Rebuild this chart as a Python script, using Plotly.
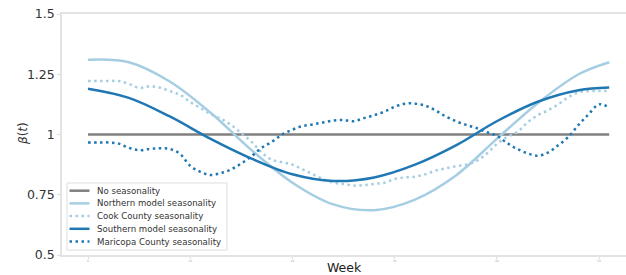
import plotly.graph_objects as go

# ---------------- data ----------------
weeks_base = [0, 51]
no_season = [1.0, 1.0]

weeks_model = [0, 4, 8, 12, 16, 20, 24, 28, 32, 36, 40, 44, 48, 51]
northern = [1.31, 1.30, 1.22, 1.09, 0.935, 0.80, 0.71, 0.686, 0.73, 0.83, 0.982, 1.13, 1.25, 1.30]
southern = [1.19, 1.152, 1.075, 0.982, 0.90, 0.835, 0.807, 0.822, 0.875, 0.955, 1.055, 1.136, 1.184, 1.195]

weeks_county = list(range(0, 52))
cook = [1.222, 1.222, 1.222, 1.222, 1.21, 1.193, 1.20, 1.195, 1.18, 1.165,
        1.135, 1.11, 1.085, 1.065, 1.04, 1.005, 0.97, 0.925, 0.895, 0.885,
        0.875, 0.855, 0.835, 0.815, 0.80, 0.795, 0.788, 0.79, 0.795, 0.80,
        0.815, 0.822, 0.825, 0.835, 0.85, 0.86, 0.868, 0.875, 0.89, 0.92,
        0.96, 0.99, 1.01, 1.05, 1.08, 1.10, 1.125, 1.155, 1.175, 1.18,
        1.18, 1.18]
maricopa = [0.967, 0.967, 0.967, 0.962, 0.945, 0.935, 0.94, 0.943, 0.94, 0.92,
            0.87, 0.845, 0.832, 0.84, 0.855, 0.88, 0.91, 0.945, 0.97, 1.0,
            1.02, 1.035, 1.042, 1.05, 1.058, 1.06, 1.055, 1.068, 1.08, 1.095,
            1.115, 1.128, 1.128, 1.12, 1.10, 1.075, 1.055, 1.04, 1.027, 1.01,
            0.995, 0.965, 0.94, 0.922, 0.912, 0.925, 0.955, 0.99, 1.04, 1.085,
            1.125, 1.112]

x_ticks = [0, 10, 20, 30, 40, 50]
y_ticks = [0.5, 0.75, 1.0, 1.25, 1.5]
y_ticklabels = ["0.5", "0.75", "1", "1.25", "1.5"]

names = ["No seasonality", "Northern model seasonality", "Cook County seasonality",
         "Southern model seasonality", "Maricopa County seasonality"]

GRAY = "#808080"
LIGHT = "#a6cee3"
DARK = "#1f78b4"
DOT = "2.5px,3.5px"
LW = 2.5

styles = [(GRAY, "solid"), (LIGHT, "solid"), (LIGHT, DOT), (DARK, "solid"), (DARK, DOT)]

fig = go.Figure()
series = [(weeks_base, no_season, "linear"),
          (weeks_model, northern, "spline"),
          (weeks_county, cook, "spline"),
          (weeks_model, southern, "spline"),
          (weeks_county, maricopa, "spline")]
for (xs, ys, shape), name, (col, dash) in zip(series, names, styles):
    fig.add_trace(go.Scatter(x=xs, y=ys, mode="lines", name=name, showlegend=False,
                             line=dict(color=col, width=LW, dash=dash, shape=shape)))

# ---------------- manual compact legend ----------------
W, H = 564.0, 241.0
L, B = 62.0, 255.0
def px(xp):
    return (xp - L) / W
def py(yp):
    return (B - yp) / H

shapes = [dict(type="rect", xref="paper", yref="paper",
               x0=px(67), x1=px(227), y0=py(250), y1=py(183),
               line=dict(color="#dddddd", width=1), fillcolor="rgba(255,255,255,0.8)",
               layer="above")]
annotations = []
rows = [190.7, 203.4, 216.1, 228.8, 241.5]
for yy, name, (col, dash) in zip(rows, names, styles):
    shapes.append(dict(type="line", xref="paper", yref="paper",
                       x0=px(69.5), x1=px(89.5), y0=py(yy), y1=py(yy),
                       line=dict(color=col, width=LW, dash=dash), layer="above"))
    annotations.append(dict(xref="paper", yref="paper", x=px(95), y=py(yy),
                            xanchor="left", yanchor="middle", showarrow=False,
                            text=name, font=dict(family="DejaVu Sans", size=8.6, color="#333333")))

# y-axis title as rotated annotation
annotations.append(dict(xref="paper", yref="paper", x=px(23), y=py(134), textangle=-90,
                        xanchor="center", yanchor="middle", showarrow=False,
                        text="<i>β</i>(<i>t</i>)", font=dict(family="DejaVu Sans", size=12, color="#333333")))

fig.update_layout(
    width=626, height=275,
    margin=dict(l=int(L), r=0, t=14, b=20),
    paper_bgcolor="white", plot_bgcolor="white",
    font=dict(family="DejaVu Sans", color="#333333"),
    shapes=shapes, annotations=annotations,
    xaxis=dict(range=[-2.544, 52.64], tickvals=x_ticks, ticktext=[str(v) for v in x_ticks],
               tickfont=dict(size=3, color="#aaaaaa"), ticks="outside", ticklen=2,
               tickcolor="#dddddd", showgrid=False, zeroline=False, automargin=False,
               showline=True, linecolor="#e3e3e3", linewidth=1.5, mirror=True,
               title=dict(text="Week", font=dict(size=12.5, color="#222222"), standoff=1)),
    yaxis=dict(range=[0.5, 1.5], tickvals=y_ticks, ticktext=y_ticklabels,
               tickfont=dict(size=12.5, color="#333333"), ticks="outside", ticklen=3,
               ticklabeloverflow="allow",
               tickcolor="#dddddd", showgrid=False, zeroline=False, automargin=False,
               showline=True, linecolor="#e3e3e3", linewidth=1.5, mirror=True),
)

fig.write_html("out.html", config={"displayModeBar": False},
               post_script="document.body.style.margin='0';document.body.style.padding='0';")
